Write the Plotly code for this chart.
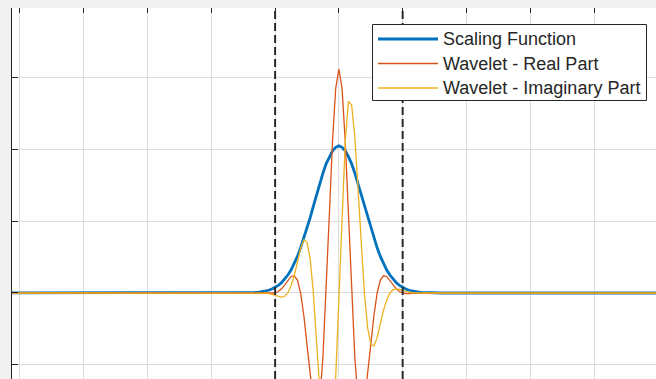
import plotly.graph_objects as go

# ---- data ----
t = [-5.2, -1.6, -1.5, -1.45, -1.4, -1.35, -1.3, -1.25, -1.2, -1.15, -1.1, -1.05, -1.0,
     -0.95, -0.9, -0.85, -0.8, -0.75, -0.7, -0.65, -0.6, -0.55, -0.5, -0.45, -0.4, -0.35,
     -0.3, -0.25, -0.2, -0.15, -0.1, -0.05, 0.0, 0.05, 0.1, 0.15, 0.2, 0.25, 0.3, 0.35,
     0.4, 0.45, 0.5, 0.55, 0.6, 0.65, 0.7, 0.75, 0.8, 0.85, 0.9, 0.95, 1.0, 1.05, 1.1,
     1.15, 1.2, 1.25, 1.3, 1.35, 1.4, 1.45, 1.5, 1.6, 5.1]

scaling = [0, 0, 0.001, 0.002, 0.003, 0.005, 0.008, 0.012, 0.018, 0.027, 0.038, 0.055, 0.077,
           0.106, 0.143, 0.19, 0.25, 0.32, 0.41, 0.51, 0.63, 0.76, 0.90, 1.05, 1.21, 1.37,
           1.52, 1.67, 1.80, 1.90, 1.98, 2.03, 2.05, 2.03, 1.98, 1.90, 1.80, 1.67, 1.52, 1.37,
           1.21, 1.05, 0.90, 0.76, 0.63, 0.51, 0.41, 0.32, 0.25, 0.19, 0.143, 0.106, 0.077,
           0.055, 0.038, 0.027, 0.018, 0.012, 0.008, 0.005, 0.003, 0.002, 0.001, 0, 0]

wavelet_real = [0, 0, 0, 0, 0, -0.001, -0.002, -0.003, -0.005, -0.007, -0.010, -0.008, 0.00,
                0.021, 0.058, 0.11, 0.175, 0.23, 0.24, 0.18, 0.00, -0.31, -0.72, -1.16, -1.52,
                -1.66, -1.47, -0.90, 0.00, 1.08, 2.11, 2.85, 3.12, 2.85, 2.11, 1.08, 0.00, -0.90,
                -1.47, -1.66, -1.52, -1.16, -0.72, -0.31, 0.00, 0.18, 0.24, 0.23, 0.175, 0.11,
                0.058, 0.021, 0.00, -0.008, -0.010, -0.007, -0.005, -0.003, -0.002, -0.001,
                0, 0, 0, 0, 0]

wavelet_imag = [0, 0, 0, 0, 0, 0, 0.001, 0.001, 0, -0.003, -0.010, -0.020, -0.035, -0.050,
                -0.057, -0.046, 0, 0.10, 0.24, 0.43, 0.62, 0.74, 0.71, 0.48, 0, -0.69, -1.47,
                -2.18, -2.62, -2.67, -2.11, -1.18, 0, 1.18, 2.11, 2.67, 2.62, 2.18, 1.47, 0.69,
                0.00, -0.48, -0.71, -0.74, -0.62, -0.43, -0.24, -0.10, 0.00, 0.046, 0.057, 0.050,
                0.035, 0.020, 0.010, 0.003, 0.000, -0.001, -0.001, 0, 0, 0, 0, 0, 0]

support_bounds = [-1, 1]
series_names = ["Scaling Function", "Wavelet - Real Part", "Wavelet - Imaginary Part"]

# ---- styles ----
colors = ["#0072BD", "#D95319", "#EDB120"]
widths = [2.8, 1.3, 1.3]
W, H = 656, 379
ML, MT = 12, 8
PW, PH = W - ML, H - MT
axis_col = "#262626"
grid = "#dcdcdc"
font_family = "Liberation Sans, Arial, sans-serif"


def px(xpix):
    return (xpix - ML) / PW


def py(ypix):
    return 1 - (ypix - MT) / PH


fig = go.Figure()
for y, name, c, w in zip([scaling, wavelet_real, wavelet_imag], series_names, colors, widths):
    fig.add_trace(go.Scatter(x=t, y=y, mode="lines", name=name, showlegend=False,
                             line=dict(color=c, width=w)))

for xb in support_bounds:
    fig.add_vline(x=xb, line=dict(color="#2b2b2b", width=2, dash="8px,4px"))

# legend box (drawn in the plot-area frame)
fig.add_shape(type="rect", xref="paper", yref="paper",
              x0=px(372.5), x1=px(646.5), y0=py(100.5), y1=py(24.5),
              line=dict(color=axis_col, width=1), fillcolor="white", layer="above")
row_y = [39, 63.5, 88]
for name, c, w, ry in zip(series_names, colors, widths, row_y):
    fig.add_shape(type="line", xref="paper", yref="paper",
                  x0=px(378), x1=px(438), y0=py(ry), y1=py(ry),
                  line=dict(color=c, width=w), layer="above")
    fig.add_annotation(xref="paper", yref="paper", x=px(441.5), y=py(ry),
                       xanchor="left", yanchor="middle", showarrow=False,
                       text=name, font=dict(family=font_family, size=18, color="#262626"),
                       borderpad=0)

fig.update_layout(
    width=W, height=H,
    margin=dict(l=ML, r=0, t=MT, b=0, pad=0),
    paper_bgcolor="#f1f1f1",
    plot_bgcolor="white",
    showlegend=False,
    xaxis=dict(
        range=[-5.125, 4.972], dtick=1, tick0=0,
        side="top", showticklabels=False, ticks="inside", ticklen=5,
        tickcolor=axis_col, showline=False, zeroline=False,
        showgrid=True, gridcolor=grid, gridwidth=1, automargin=False,
    ),
    yaxis=dict(
        range=[-1.199, 3.972], dtick=1, tick0=0,
        showticklabels=False, ticks="inside", ticklen=6,
        tickcolor=axis_col, showline=True, linecolor=axis_col, linewidth=1.2,
        zeroline=False, showgrid=True, gridcolor=grid, gridwidth=1, automargin=False,
    ),
)

fig.write_html("out.html", config={"displayModeBar": False},
               post_script="document.body.style.margin='0';")
